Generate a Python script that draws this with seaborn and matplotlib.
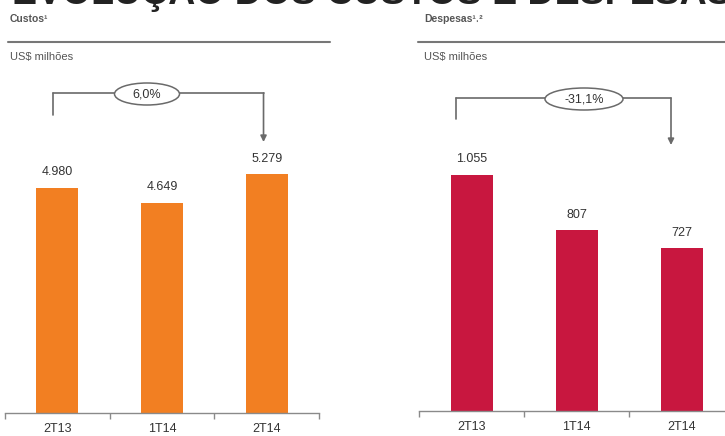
import matplotlib
matplotlib.use("Agg")
import matplotlib.pyplot as plt
from matplotlib.patches import Ellipse
import seaborn as sns
import pandas as pd

sns.set_theme(style="white")
plt.rcParams['font.family'] = ['Liberation Sans', 'DejaVu Sans']

# ---- data ----
categories = ["2T13", "1T14", "2T14"]
custos = [4980, 4649, 5279]
custos_labels = ["4.980", "4.649", "5.279"]
despesas = [1055, 807, 727]
despesas_labels = ["1.055", "807", "727"]
custos_change = "6,0%"
despesas_change = "-31,1%"
title = "EVOLUÇÃO DOS CUSTOS E DESPESAS"
left_header = "Custos¹"
right_header = "Despesas¹˒²"
unit = "US$ milhões"

orange = "#F27F22"
crimson = "#C8173F"
grey = "#555555"

W, H = 725, 436
fig = plt.figure(figsize=(W / 100, H / 100), dpi=100)


def fx(px):
    return px / W


def fy(py):
    return 1 - py / H


def panel(left_px, right_px, base_px, top_px, values, labels, color, ymax,
          change, bx0, bx1, by_line, by_stub, by_tip, ell_x, ell_w):
    ax = fig.add_axes([fx(left_px), fy(base_px), fx(right_px - left_px),
                       (base_px - top_px) / H])
    df = pd.DataFrame({"cat": categories, "val": values})
    sns.barplot(data=df, x="cat", y="val", color=color, width=0.4, ax=ax,
                saturation=1, edgecolor="none")
    ax.set_xlim(-0.5, 2.5)
    ax.set_ylim(0, ymax)
    ax.set_xlabel("")
    ax.set_ylabel("")
    ax.set_yticks([])
    for s in ["top", "right", "left"]:
        ax.spines[s].set_visible(False)
    ax.spines["bottom"].set_color("#8a8a8a")
    ax.spines["bottom"].set_linewidth(1.0)
    ax.set_xticks(range(len(categories)))
    ax.set_xticklabels(categories, fontsize=9, color="#333333")
    ax.tick_params(axis="x", which="major", length=0, pad=7)
    ax.set_xticks([-0.5, 0.5, 1.5, 2.5], minor=True)
    ax.tick_params(axis="x", which="minor", length=4, color="#8a8a8a",
                   direction="out", bottom=True)
    for i, (v, lab) in enumerate(zip(values, labels)):
        ax.annotate(lab, (i, v), xytext=(0, 7), textcoords="offset points",
                    ha="center", va="bottom", fontsize=9, color="#333333")
    # bracket
    tr = ax.get_xaxis_transform()
    ax_h = base_px - top_px

    def fr(py):
        return (base_px - py) / ax_h

    lc = "#6a6a6a"
    ax.plot([bx0, bx0], [fr(by_stub), fr(by_line)], color=lc, lw=1.2,
            transform=tr, clip_on=False)
    ax.plot([bx0, bx1], [fr(by_line), fr(by_line)], color=lc, lw=1.2,
            transform=tr, clip_on=False, zorder=3)
    ax.annotate("", xy=(bx1, fr(by_tip)), xytext=(bx1, fr(by_line)),
                xycoords=tr, textcoords=tr,
                arrowprops=dict(arrowstyle="-|>", color=lc, lw=1.2,
                                mutation_scale=9, shrinkA=0, shrinkB=0))
    # ellipse in figure coords
    e = Ellipse((fx(ell_x), fy(by_line + 1)), fx(ell_w), 22 / H,
                transform=fig.transFigure, facecolor="white",
                edgecolor=lc, lw=1.1, zorder=5)
    fig.patches.append(e)
    fig.text(fx(ell_x), fy(by_line + 1), change, ha="center", va="center",
             fontsize=9, color="#333333", zorder=6)
    return ax


# left panel: axes bottom at 413px, top at 80px
panel(5, 319, 413, 80, custos, custos_labels, orange, 333 / 0.04518,
      custos_change, -0.04, 1.97, 93, 115, 142, 147, 65)
# right panel
panel(419, 734, 411, 80, despesas, despesas_labels, crimson, 331 / 0.2237,
      despesas_change, -0.15, 1.90, 98, 119, 145, 584, 78)

# headers
fig.text(fx(12), fy(4), title, fontsize=27, fontweight="bold",
         color="#222222", ha="left", va="baseline")
fig.text(fx(10), fy(19), left_header, fontsize=7.5, fontweight="bold",
         color=grey, ha="left", va="center")
fig.text(fx(424), fy(19), right_header, fontsize=7.5, fontweight="bold",
         color=grey, ha="left", va="center")
fig.lines.append(plt.Line2D([fx(8), fx(330)], [fy(42), fy(42)],
                            transform=fig.transFigure, color="#777777", lw=1.5))
fig.lines.append(plt.Line2D([fx(418), fx(725)], [fy(42), fy(42)],
                            transform=fig.transFigure, color="#777777", lw=1.5))
fig.text(fx(10), fy(57), unit, fontsize=8, color=grey, ha="left", va="center")
fig.text(fx(424), fy(57), unit, fontsize=8, color=grey, ha="left", va="center")

fig.savefig("out.png", dpi=100)
